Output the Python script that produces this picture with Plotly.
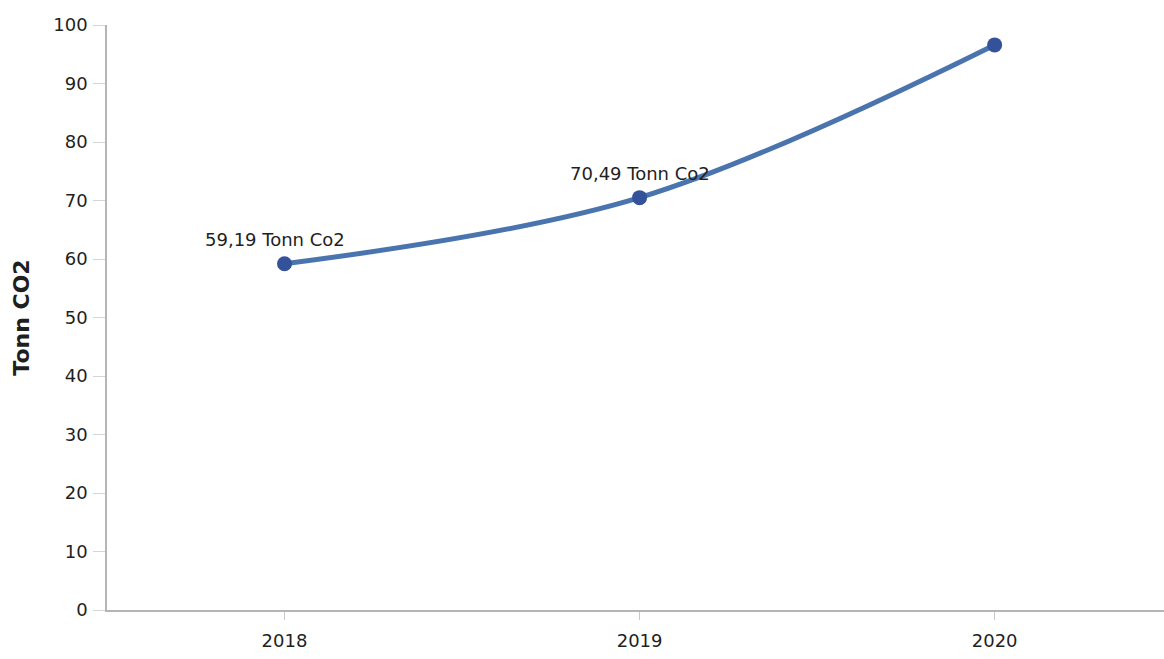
import plotly.graph_objects as go

years = ["2018", "2019", "2020"]
values = [59.19, 70.49, 96.6]
labels = ["59,19 Tonn Co2", "70,49 Tonn Co2", ""]
y_ticks = [0, 10, 20, 30, 40, 50, 60, 70, 80, 90, 100]

FONT = "DejaVu Sans"
TXT = "#1f1f1f"

fig = go.Figure()
fig.add_trace(go.Scatter(
    x=years, y=values, mode="lines+markers",
    line=dict(color="#4a74ae", width=5, shape="spline", smoothing=1.0),
    marker=dict(color="#34529a", size=15),
    hoverinfo="skip", showlegend=False,
))

xshifts = [-10, 0, 0]
for i, (v, lab, xs) in enumerate(zip(values, labels, xshifts)):
    if lab:
        fig.add_annotation(x=i, y=v, xref="x", yref="y", text=lab, showarrow=False,
                           yshift=24, xshift=xs,
                           font=dict(family=FONT, size=18, color=TXT))

fig.update_layout(
    width=1164, height=659,
    margin=dict(l=107, r=0, t=25, b=49),
    paper_bgcolor="white", plot_bgcolor="white",
    font=dict(family=FONT, size=18, color=TXT),
    xaxis=dict(
        type="category", range=[-0.5, 2.477],
        showline=True, linecolor="#b5b5b5", linewidth=1.5,
        ticks="outside", ticklen=8, tickcolor="#c8c8c8",
        ticklabelstandoff=6,
        showgrid=False, zeroline=False,
        tickfont=dict(family=FONT, size=18, color=TXT),
    ),
    yaxis=dict(
        range=[0, 100], tickvals=y_ticks,
        showline=True, linecolor="#b5b5b5", linewidth=1.5,
        ticks="outside", ticklen=12, tickcolor="#d5d5d5",
        ticklabelstandoff=2,
        showgrid=False, zeroline=False,
        tickfont=dict(family=FONT, size=18, color=TXT),
        title=dict(text="<b>Tonn CO2</b>", font=dict(family=FONT, size=22, color=TXT), standoff=18),
    ),
)

fig.write_html("out.html", config={"displayModeBar": False},
               post_script="document.body.style.margin='0';document.body.style.overflow='hidden';")
